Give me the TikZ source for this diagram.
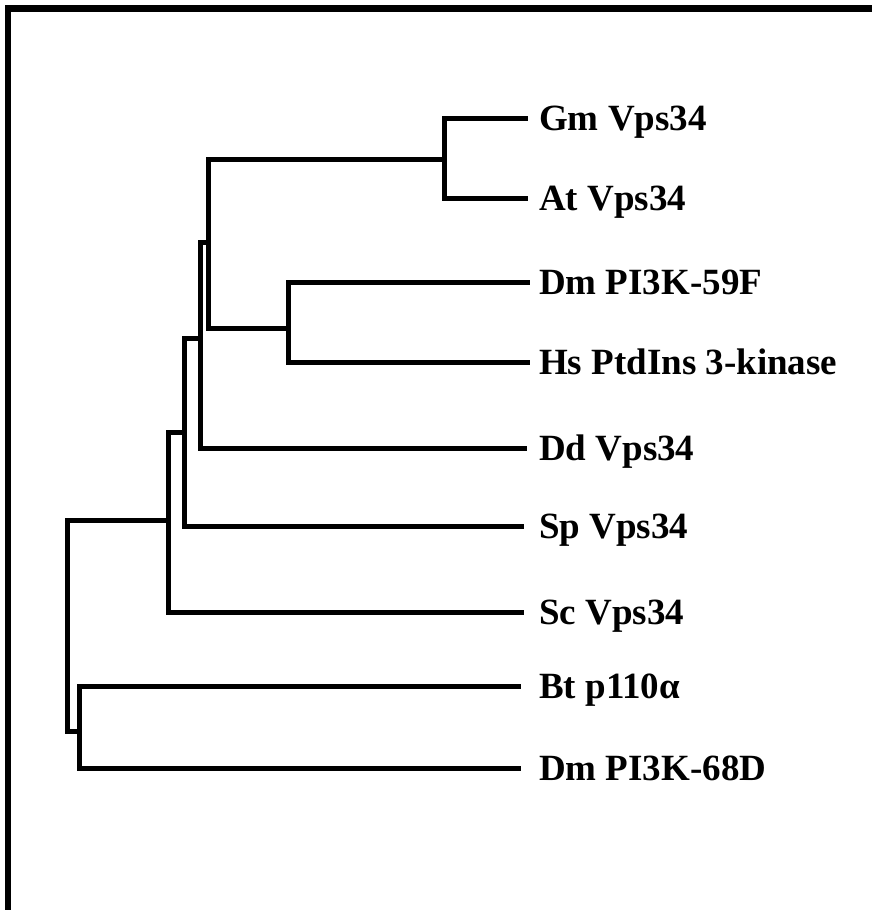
\documentclass[tikz,border=0pt]{standalone}
\usepackage{fontspec}
\setmainfont{Liberation Serif}
\begin{document}
\begin{tikzpicture}[x=1pt,y=-1pt,
  branch/.style={line width=5pt,line join=miter},
  frame/.style={line width=6.5pt,line join=miter},
  leaf/.style={anchor=base west,inner sep=0pt,font=\fontsize{37}{41}\selectfont\bfseries}]
\useasboundingbox (0,0) rectangle (872,910);
% frame
\draw[frame] (8,912) -- (8,8.5) -- (874,8.5);
% leaf line ends
\coordinate (gmE) at (528,118);
\coordinate (atE) at (528,198);
\coordinate (dmfE) at (530,282);
\coordinate (hsE) at (530,362);
\coordinate (ddE) at (527,448);
\coordinate (spE) at (524,526);
\coordinate (scE) at (524,612);
\coordinate (btE) at (521,686);
\coordinate (dmdE) at (521,768);
% labels
\node[leaf] (gm) at (539,130.5) {Gm Vps34};
\node[leaf] (at) at (539,210.5) {At Vps34};
\node[leaf] (dmf) at (539,294.5) {Dm PI3K-59F};
\node[leaf] (hs) at (539,374.5) {Hs PtdIns 3-kinase};
\node[leaf] (dd) at (539,460.5) {Dd Vps34};
\node[leaf] (sp) at (539,538.5) {Sp Vps34};
\node[leaf] (sc) at (539,624.5) {Sc Vps34};
\node[leaf] (bt) at (539,698.5) {Bt p110α};
\node[leaf] (dmd) at (539,780.5) {Dm PI3K-68D};
% internal nodes
\coordinate (nGA) at (444,159);
\coordinate (nDH) at (288,328);
\coordinate (nA) at (208,242);
\coordinate (nB) at (200,338);
\coordinate (nC) at (184,432);
\coordinate (nD) at (168,520);
\coordinate (nE) at (79,731);
\coordinate (root) at (67,625);
% branches
\draw[branch] (nGA) |- (gmE);
\draw[branch] (nGA) |- (atE);
\draw[branch] (nDH) |- (dmfE);
\draw[branch] (nDH) |- (hsE);
\draw[branch] (nA) |- (nGA);
\draw[branch] (nA) |- (nDH);
\draw[branch] (nB) |- (nA);
\draw[branch] (nB) |- (ddE);
\draw[branch] (nC) |- (nB);
\draw[branch] (nC) |- (spE);
\draw[branch] (nD) |- (nC);
\draw[branch] (nD) |- (scE);
\draw[branch] (nE) |- (btE);
\draw[branch] (nE) |- (dmdE);
\draw[branch] (root) |- (nD);
\draw[branch] (root) |- (nE);
\end{tikzpicture}
\end{document}
